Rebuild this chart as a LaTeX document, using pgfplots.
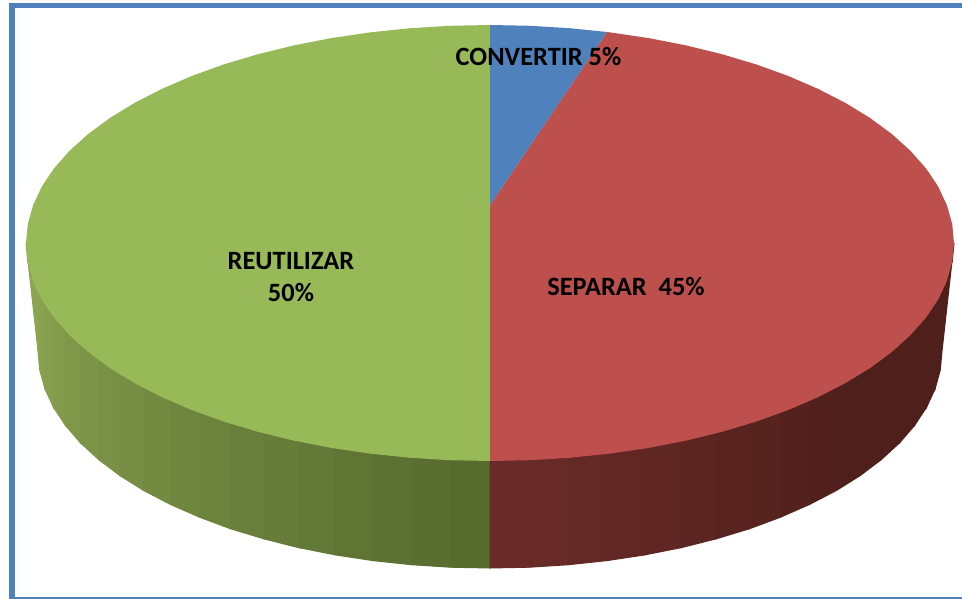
\documentclass[border=0pt]{standalone}
\usepackage{fontspec}
\setmainfont{Carlito}
\usepackage{pgfplots}
\pgfplotsset{compat=1.18}
\definecolor{frameBlue}{RGB}{79,129,189}
\definecolor{topBlue}{RGB}{79,129,189}
\definecolor{topRed}{RGB}{189,79,76}
\definecolor{topGreen}{RGB}{152,185,88}
\definecolor{gL}{RGB}{140,165,82}
\definecolor{gR}{RGB}{86,107,46}
\definecolor{rL}{RGB}{106,43,40}
\definecolor{rR}{RGB}{78,31,27}
\pgfplotsset{
  sd/.style={fill=#1,draw=#1,line width=1pt,forget plot},
  tp/.style={fill=#1,draw=none,forget plot}
}
\begin{document}
\begin{tikzpicture}
\begin{axis}[
  width=962pt, height=599pt, scale only axis,
  xmin=0, xmax=962, ymin=0, ymax=599, y dir=reverse,
  hide axis, clip=true
]
% white page, also fixes the bounding box
\addplot[tp=white] coordinates {(0,0) (962,0) (962,599) (0,599)} --cycle;
% side, green part, left to centre
\addplot[sd=gL!100!gR] coordinates {(26,243) (27.8,262) (33.1,280.8) (38,292.3) (38,351)} --cycle;
\addplot[sd=gL!100!gR] coordinates {(38,292.3) (38,351) (39.7,369.9) (39.7,295.8)} --cycle;
\addplot[sd=gL!94!gR] coordinates {(39.7,295.8) (39.7,369.9) (44.9,388.7) (44.9,304.6)} --cycle;
\addplot[sd=gL!88!gR] coordinates {(44.9,304.6) (44.9,388.7) (53.4,407.2) (53.4,316.9)} --cycle;
\addplot[sd=gL!82!gR] coordinates {(53.4,316.9) (53.4,407.2) (65.3,425.2) (65.3,330.8)} --cycle;
\addplot[sd=gL!76!gR] coordinates {(65.3,330.8) (65.3,425.2) (80.3,442.7) (80.3,345.4)} --cycle;
\addplot[sd=gL!71!gR] coordinates {(80.3,345.4) (80.3,442.7) (98.6,459.5) (98.6,360.1)} --cycle;
\addplot[sd=gL!65!gR] coordinates {(98.6,360.1) (98.6,459.5) (119.7,475.5) (119.7,374.4)} --cycle;
\addplot[sd=gL!59!gR] coordinates {(119.7,374.4) (119.7,475.5) (143.7,490.5) (143.7,388.2)} --cycle;
\addplot[sd=gL!53!gR] coordinates {(143.7,388.2) (143.7,490.5) (170.4,504.4) (170.4,401.1)} --cycle;
\addplot[sd=gL!47!gR] coordinates {(170.4,401.1) (170.4,504.4) (199.5,517.2) (199.5,413)} --cycle;
\addplot[sd=gL!41!gR] coordinates {(199.5,413) (199.5,517.2) (230.7,528.8) (230.7,423.8)} --cycle;
\addplot[sd=gL!35!gR] coordinates {(230.7,423.8) (230.7,528.8) (264,538.9) (264,433.4)} --cycle;
\addplot[sd=gL!29!gR] coordinates {(264,433.4) (264,538.9) (299,547.7) (299,441.7)} --cycle;
\addplot[sd=gL!24!gR] coordinates {(299,441.7) (299,547.7) (335.4,554.9) (335.4,448.6)} --cycle;
\addplot[sd=gL!18!gR] coordinates {(335.4,448.6) (335.4,554.9) (373,560.6) (373,454)} --cycle;
\addplot[sd=gL!12!gR] coordinates {(373,454) (373,560.6) (411.5,564.7) (411.5,457.9)} --cycle;
\addplot[sd=gL!6!gR] coordinates {(411.5,457.9) (411.5,564.7) (450.6,567.2) (450.6,460.2)} --cycle;
\addplot[sd=gR] coordinates {(450.6,460.2) (450.6,567.2) (490,568) (490,461)} --cycle;
% side, red part, centre to right
\addplot[sd=rL!100!rR] coordinates {(490,461) (490,568) (529.4,567.2) (529.4,460.2)} --cycle;
\addplot[sd=rL!90!rR] coordinates {(529.4,460.2) (529.4,567.2) (568.5,564.7) (568.5,457.9)} --cycle;
\addplot[sd=rL!80!rR] coordinates {(568.5,457.9) (568.5,564.7) (607,560.6) (607,454)} --cycle;
\addplot[sd=rL!70!rR] coordinates {(607,454) (607,560.6) (644.6,554.9) (644.6,448.6)} --cycle;
\addplot[sd=rL!60!rR] coordinates {(644.6,448.6) (644.6,554.9) (681,547.7) (681,441.7)} --cycle;
\addplot[sd=rL!50!rR] coordinates {(681,441.7) (681,547.7) (716,538.9) (716,433.4)} --cycle;
\addplot[sd=rL!40!rR] coordinates {(716,433.4) (716,538.9) (749.3,528.8) (749.3,423.8)} --cycle;
\addplot[sd=rL!30!rR] coordinates {(749.3,423.8) (749.3,528.8) (780.5,517.2) (780.5,413)} --cycle;
\addplot[sd=rL!20!rR] coordinates {(780.5,413) (780.5,517.2) (809.6,504.4) (809.6,401.1)} --cycle;
\addplot[sd=rL!10!rR] coordinates {(809.6,401.1) (809.6,504.4) (836.3,490.5) (836.3,388.2)} --cycle;
\addplot[sd=rR] coordinates {(836.3,388.2) (836.3,490.5) (860.3,475.5) (860.3,374.4)} --cycle;
\addplot[sd=rR] coordinates {(860.3,374.4) (860.3,475.5) (881.4,459.5) (881.4,360.1)} --cycle;
\addplot[sd=rR] coordinates {(881.4,360.1) (881.4,459.5) (899.7,442.7) (899.7,345.4)} --cycle;
\addplot[sd=rR] coordinates {(899.7,345.4) (899.7,442.7) (914.7,425.2) (914.7,330.8)} --cycle;
\addplot[sd=rR] coordinates {(914.7,330.8) (914.7,425.2) (926.6,407.2) (926.6,316.9)} --cycle;
\addplot[sd=rR] coordinates {(926.6,316.9) (926.6,407.2) (935.1,388.7) (935.1,304.6)} --cycle;
\addplot[sd=rR] coordinates {(935.1,304.6) (935.1,388.7) (940.3,369.9) (940.3,295.8)} --cycle;
\addplot[sd=rR] coordinates {(940.3,295.8) (940.3,369.9) (942,351) (954,243) (952.2,262) (946.9,280.8)} --cycle;
% top face
\addplot[tp=topGreen] coordinates {
  (490,25) (449.6,25.8) (409.4,28.3) (369.9,32.4) (331.3,38.1) (293.9,45.4) (258,54.2)
  (223.9,64.4) (191.7,76) (161.9,88.9) (134.6,102.9) (109.9,118) (88.2,134) (69.5,150.9)
  (54,168.4) (41.8,186.6) (33.1,205.2) (27.8,224) (26,243) (27.8,262) (33.1,280.8)
  (41.8,299.4) (54,317.6) (69.5,335.1) (88.2,352) (109.9,368) (134.6,383.1) (161.9,397.1)
  (191.7,410) (223.9,421.6) (258,431.8) (293.9,440.6) (331.3,447.9) (369.9,453.6)
  (409.4,457.7) (449.6,460.2) (490,461)} --cycle;
\addplot[tp=topRed] coordinates {
  (490,205) (607,32) (610.1,32.4) (648.7,38.1) (686.1,45.4) (722,54.2) (756.1,64.4)
  (788.3,76) (818.1,88.9) (845.4,102.9) (870.1,118) (891.8,134) (910.5,150.9) (926,168.4)
  (938.2,186.6) (946.9,205.2) (952.2,224) (954,243) (952.2,262) (946.9,280.8) (938.2,299.4)
  (926,317.6) (910.5,335.1) (891.8,352) (870.1,368) (845.4,383.1) (818.1,397.1) (788.3,410)
  (756.1,421.6) (722,431.8) (686.1,440.6) (648.7,447.9) (610.1,453.6) (570.6,457.7)
  (530.4,460.2) (490,461)} --cycle;
\addplot[tp=topBlue] coordinates {
  (490,25) (530.4,25.8) (570.6,28.3) (607,32) (490,205)} --cycle;
% frame, no right side
\addplot[tp=frameBlue] coordinates {(9,3) (962,3) (962,8) (9,8)} --cycle;
\addplot[tp=frameBlue] coordinates {(9,3) (15,3) (15,599) (9,599)} --cycle;
\addplot[tp=frameBlue] coordinates {(9,597) (962,597) (962,599) (9,599)} --cycle;
% labels
\node[font=\fontsize{26.4}{30}\selectfont\bfseries] at (axis cs:538.5,57) {CONVERTIR 5\%};
\node[font=\fontsize{26.4}{30}\selectfont\bfseries] at (axis cs:291,261) {REUTILIZAR};
\node[font=\fontsize{26.4}{30}\selectfont\bfseries] at (axis cs:291,293) {50\%};
\node[font=\fontsize{26.4}{30}\selectfont\bfseries] at (axis cs:626,287) {SEPARAR\ \ 45\%};
\end{axis}
\end{tikzpicture}
\end{document}
